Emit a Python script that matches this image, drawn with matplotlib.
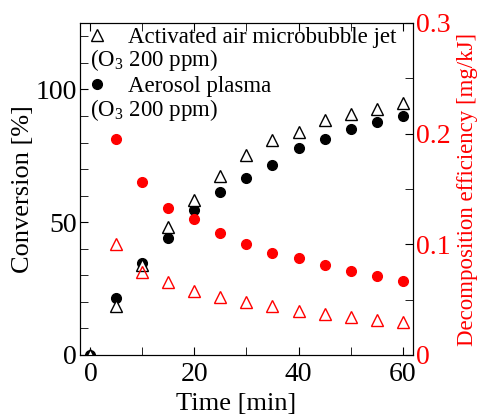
import matplotlib
matplotlib.use('Agg')
import matplotlib.pyplot as plt
from matplotlib.ticker import MultipleLocator, FixedLocator

plt.rcParams['font.family'] = ['Liberation Serif', 'DejaVu Serif']
plt.rcParams['mathtext.fontset'] = 'custom'
plt.rcParams['mathtext.rm'] = 'Liberation Serif'
plt.rcParams['mathtext.default'] = 'regular'

# data
time = [0, 5, 10, 15, 20, 25, 30, 35, 40, 45, 50, 55, 60]
conv_jet = [0, 18.4, 33.8, 48.2, 58.3, 67.3, 75.2, 80.8, 83.9, 88.6, 90.8, 92.7, 94.9]
conv_plasma = [0, 21.5, 34.8, 44.2, 54.5, 61.4, 66.7, 71.7, 77.9, 81.4, 85.0, 87.7, 90.1]
time_eff = [5, 10, 15, 20, 25, 30, 35, 40, 45, 50, 55, 60]
eff_jet = [0.100, 0.0753, 0.0663, 0.0581, 0.0527, 0.0482, 0.0443, 0.0398, 0.0371, 0.0341, 0.0316, 0.0295]
eff_plasma = [0.1949, 0.1563, 0.1331, 0.1229, 0.1105, 0.0999, 0.0924, 0.0879, 0.0813, 0.0762, 0.0717, 0.0672]

fig = plt.figure(figsize=(4.83, 4.15), dpi=100)
ax = fig.add_axes([0.1656, 0.1446, 0.6894, 0.8])
ax2 = ax.twinx()

ax.plot(time, conv_jet, ls='none', marker='^', ms=8, mfc='white', mec='black', mew=1.0,
        label='Activated air microbubble jet', zorder=4)
ax.plot(time, conv_plasma, ls='none', marker='o', ms=7, color='black',
        label='Aerosol plasma', zorder=3)
ax2.plot(time_eff, eff_jet, ls='none', marker='^', ms=8, mfc='none', mec='red', mew=1.0)
ax2.plot(time_eff, eff_plasma, ls='none', marker='o', ms=7, color='red')

ax.set_xlim(-2, 62)
ax.set_ylim(0, 125)
ax2.set_ylim(0, 0.3)

ax.xaxis.set_major_locator(MultipleLocator(20))
ax.xaxis.set_minor_locator(MultipleLocator(10))
ax.yaxis.set_major_locator(MultipleLocator(50))
ax.yaxis.set_minor_locator(MultipleLocator(10))
ax2.yaxis.set_major_locator(FixedLocator([0, 0.1, 0.2, 0.3]))
ax2.yaxis.set_minor_locator(MultipleLocator(0.05))
ax2.set_yticklabels(['0', '0.1', '0.2', '0.3'])

ax.tick_params(which='both', direction='in', top=True, right=False, labelsize=20, length=6)
ax.tick_params(axis='x', pad=5)
ax.tick_params(axis='y', pad=2)
ax2.tick_params(which='both', direction='in', labelsize=20, labelcolor='red', pad=2, length=6)

ax.set_xlabel('Time [min]', fontsize=19)
ax.xaxis.set_label_coords(0.47, -0.115)
ax.set_ylabel('Conversion [%]', fontsize=19, labelpad=1)
ax2.set_ylabel('Decomposition efficiency [mg/kJ]', fontsize=16.5, color='red', labelpad=5)

leg = ax.legend(loc='upper left', bbox_to_anchor=(-0.01, 1.015), frameon=False, fontsize=16.5,
                labelspacing=1.2, handlelength=1.0, handletextpad=0.85, borderaxespad=0)
ax.text(0.03, 0.889, '(O$_3$ 200 ppm)', transform=ax.transAxes, fontsize=16.5, va='center')
ax.text(0.03, 0.737, '(O$_3$ 200 ppm)', transform=ax.transAxes, fontsize=16.5, va='center')

fig.savefig('out.png', dpi=100)
